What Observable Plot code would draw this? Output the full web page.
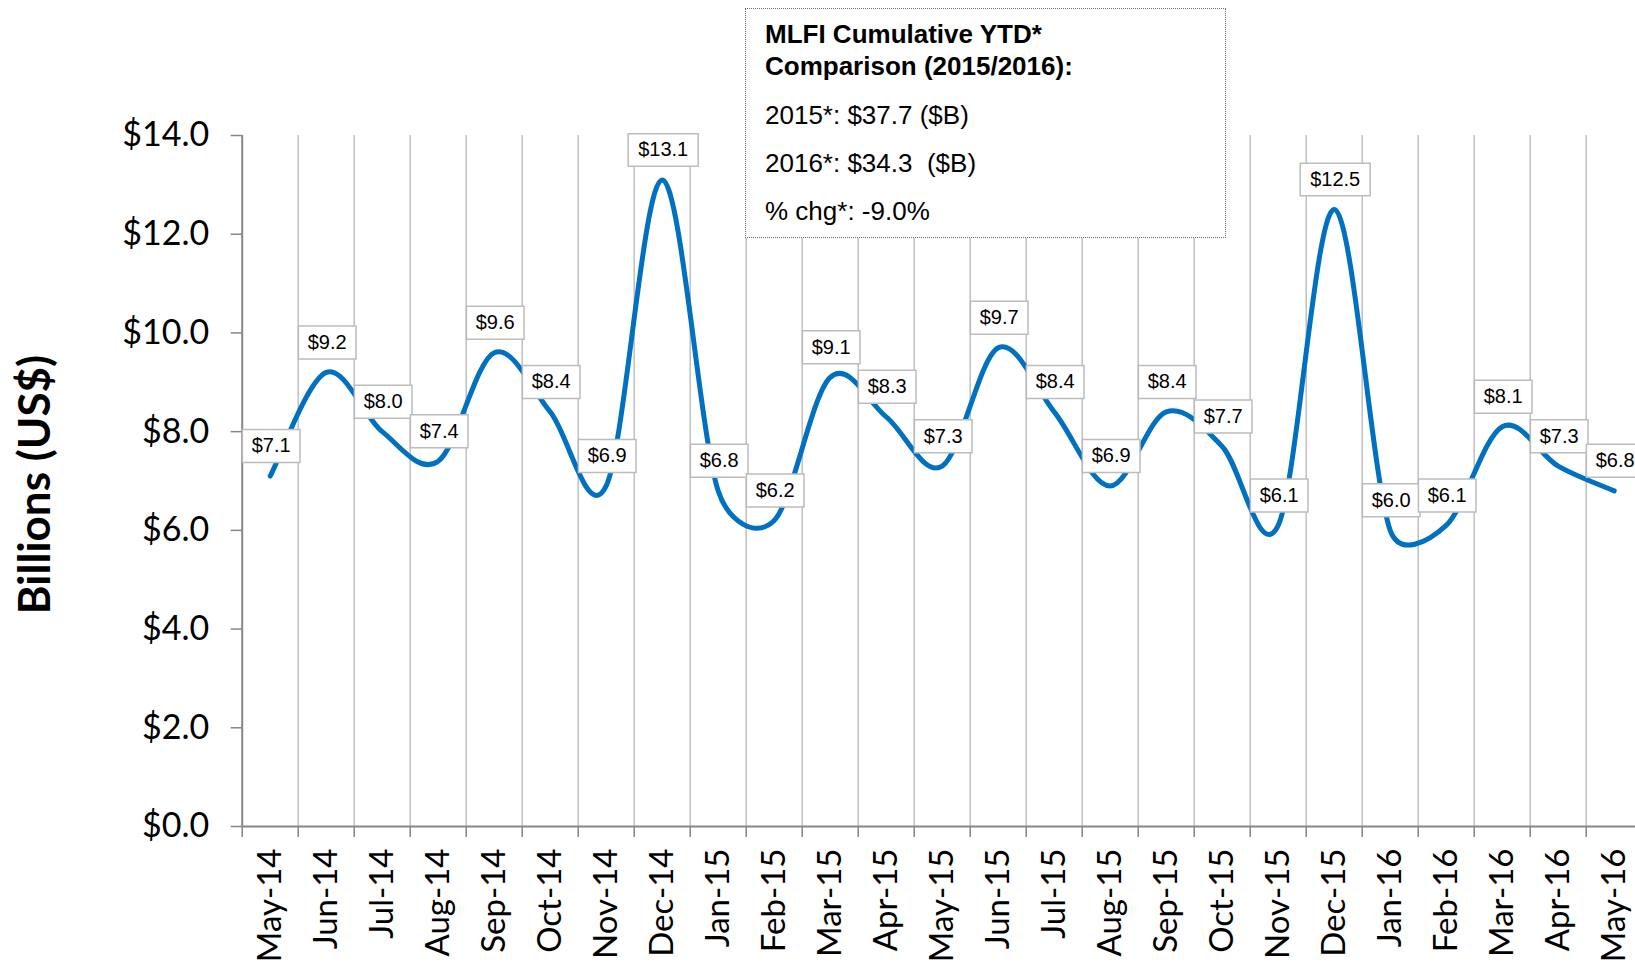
<!DOCTYPE html>
<html>
<head>
<meta charset="utf-8">
<script src="https://cdn.jsdelivr.net/npm/d3@7"></script>
<script src="https://cdn.jsdelivr.net/npm/@observablehq/plot@0.6"></script>
<style>
  html, body { margin: 0; padding: 0; background: #fff; overflow: hidden; }
  #wrap { position: relative; width: 1635px; height: 966px; }
  #wrap svg { display: block; }
  #note {
    position: absolute; left: 745px; top: 8px; width: 481px; height: 230px;
    box-sizing: border-box; border: 1px dotted #6f6f6f; background: #fff;
    padding: 9px 0 0 19px;
    font-family: "Liberation Sans", Arial, sans-serif; font-size: 26px; color: #000;
  }
  #note .b { font-weight: bold; line-height: 32px; white-space: pre; }
  #note .r { line-height: 48px; white-space: pre; }
  #note .rg { margin-top: 9px; }
</style>
</head>
<body>
<div id="wrap">
  <div id="chart"></div>
  <div id="note">
    <div class="b">MLFI Cumulative YTD*</div>
    <div class="b">Comparison (2015/2016):</div>
    <div class="rg">
      <div class="r">2015*: $37.7 ($B)</div>
      <div class="r">2016*: $34.3  ($B)</div>
      <div class="r">% chg*: -9.0%</div>
    </div>
  </div>
</div>
<script>
const months = ["May-14","Jun-14","Jul-14","Aug-14","Sep-14","Oct-14","Nov-14","Dec-14",
  "Jan-15","Feb-15","Mar-15","Apr-15","May-15","Jun-15","Jul-15","Aug-15","Sep-15","Oct-15",
  "Nov-15","Dec-15","Jan-16","Feb-16","Mar-16","Apr-16","May-16"];
const values = [7.1, 9.2, 8.0, 7.4, 9.6, 8.4, 6.9, 13.1,
  6.8, 6.2, 9.1, 8.3, 7.3, 9.7, 8.4, 6.9, 8.4, 7.7,
  6.1, 12.5, 6.0, 6.1, 8.1, 7.3, 6.8];
const yTicks = [0, 2, 4, 6, 8, 10, 12, 14];
const yTitle = "Billions (US$)";

const data = months.map((m, i) => ({i, month: m, value: values[i], label: "$" + values[i].toFixed(1)}));
const boundaries = d3.range(-0.5, months.length, 1);
const centers = d3.range(months.length);

// Spreadsheet-style smoothed line (Bezier with 1/6 handles, clamped to half the segment)
function smoothCurve(context) {
  let pts;
  return {
    areaStart() {}, areaEnd() {},
    lineStart() { pts = []; },
    point(x, y) { pts.push([+x, +y]); },
    lineEnd() {
      const n = pts.length;
      if (!n) return;
      context.moveTo(pts[0][0], pts[0][1]);
      const dist = (a, b) => Math.hypot(b[0] - a[0], b[1] - a[1]);
      for (let i = 0; i < n - 1; i++) {
        const p0 = pts[Math.max(0, i - 1)], p1 = pts[i], p2 = pts[i + 1], p3 = pts[Math.min(n - 1, i + 2)];
        const d12 = dist(p1, p2), d02 = dist(p0, p2), d13 = dist(p1, p3);
        let f1 = 1 / 6, f2 = 1 / 6;
        if (d02 > 0 && d02 / 6 > d12 / 2) f1 = d12 / 2 / d02;
        if (d13 > 0 && d13 / 6 > d12 / 2) f2 = d12 / 2 / d13;
        context.bezierCurveTo(
          p1[0] + f1 * (p2[0] - p0[0]), p1[1] + f1 * (p2[1] - p0[1]),
          p2[0] - f2 * (p3[0] - p1[0]), p2[1] - f2 * (p3[1] - p1[1]),
          p2[0], p2[1]);
      }
    }
  };
}

const rectSym = (w, h) => ({
  draw(ctx) {
    ctx.moveTo(-w / 2, -h / 2); ctx.lineTo(w / 2, -h / 2);
    ctx.lineTo(w / 2, h / 2); ctx.lineTo(-w / 2, h / 2); ctx.closePath();
  }
});

const labelOpts = {x: "i", y: "value", dx: 1, dy: -30};

const chart = Plot.plot({
  width: 1635, height: 966,
  marginLeft: 241.7, marginRight: 0, marginTop: 135, marginBottom: 140,
  style: {fontFamily: "Lato", fontSize: "34px", color: "#000", background: "#fff", overflow: "visible"},
  x: {type: "linear", domain: [-0.5, 24.5], range: [241.7, 1641.7]},
  y: {domain: [0, 14], range: [826, 135]},
  marks: [
    Plot.ruleX(boundaries.slice(1), {y1: 0, y2: 14, stroke: "#bfbfbf", strokeWidth: 1.5}),
    Plot.ruleX([-0.5], {y1: 0, y2: 14, stroke: "#868686", strokeWidth: 2}),
    Plot.ruleY([0], {x1: -0.5, x2: 24.5, stroke: "#868686", strokeWidth: 2}),
    Plot.axisY({ticks: yTicks, tickSize: 11, tickPadding: 22, tickFormat: d => "$" + d.toFixed(1),
      stroke: "#868686", strokeWidth: 1.5, label: null, fontSize: 34, fontFamily: "Lato"}),
    Plot.axisX({ticks: boundaries, tickSize: 11, tickFormat: () => "", stroke: "#868686", strokeWidth: 1.5, label: null}),
    Plot.axisX({ticks: centers, tickSize: 0, tickPadding: 22, tickRotate: -90, tickFormat: i => months[i],
      label: null, fontSize: 33, fontFamily: "Lato"}),
    Plot.line(data, {x: "i", y: "value", curve: smoothCurve, stroke: "#0070C0", strokeWidth: 5, strokeLinecap: "round", strokeLinejoin: "round"}),
    Plot.dot(data.filter(d => d.label.length <= 4), {...labelOpts, symbol: rectSym(57.6, 33), r: 5, fill: "white", stroke: "#bcbcbc", strokeWidth: 1.5}),
    Plot.dot(data.filter(d => d.label.length > 4), {...labelOpts, symbol: rectSym(70, 32.5), r: 5, fill: "white", stroke: "#bcbcbc", strokeWidth: 1.5}),
    Plot.text(data, {...labelOpts, text: "label", fontFamily: "Liberation Sans, Arial, sans-serif", fontSize: 20, fill: "#000"}),
    Plot.text([yTitle], {frameAnchor: "left", textAnchor: "middle", dx: -206.7, dy: 3.5, rotate: -90, fontWeight: "bold", fontSize: 44, fontFamily: "Lato", fill: "#000"})
  ]
});
document.getElementById("chart").appendChild(chart);
</script>
</body>
</html>
